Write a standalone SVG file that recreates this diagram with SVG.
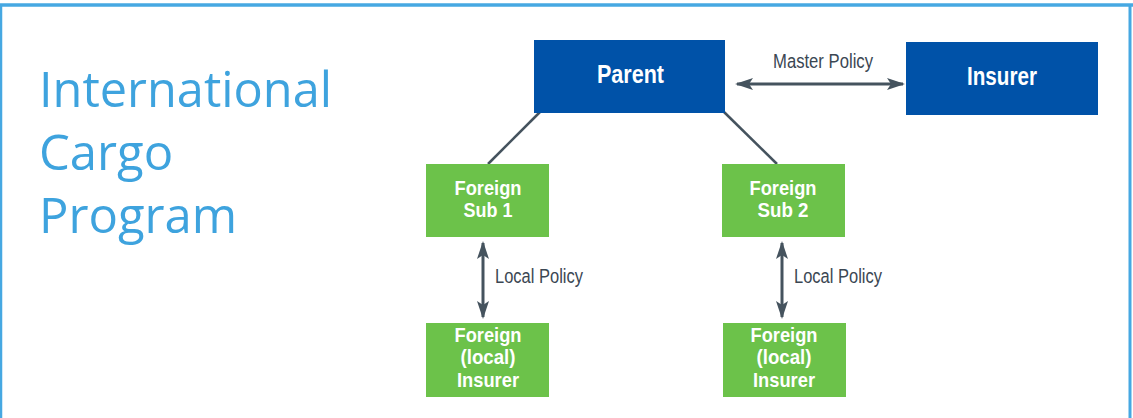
<svg xmlns="http://www.w3.org/2000/svg" width="1133" height="418" viewBox="0 0 1133 418">
<style>
.title{font-family:"Open Sans","Noto Sans",sans-serif;font-size:49px;fill:#3ea3de}
.blue{fill:#0052a8}
.green{fill:#6cc24a}
.lbl{font-family:"Liberation Sans Narrow","Liberation Sans",Arial,sans-serif;font-weight:bold;fill:#ffffff;text-anchor:middle}
.conn{stroke:#45535e;stroke-width:2.5;fill:none}
.arr{stroke:#45535e;stroke-width:3;fill:none}
.pol{font-family:"Liberation Sans Narrow","Liberation Sans",Arial,sans-serif;font-size:20px;fill:#3b4753}
.frame{stroke:#46a8e2;fill:none}
</style>
<defs>
<marker id="ah" viewBox="0 0 18 12" refX="16" refY="6" markerWidth="18" markerHeight="12" markerUnits="userSpaceOnUse" orient="auto-start-reverse">
<path d="M0,0 L18,6 L0,12 L4,6 z" fill="#45535e"/>
</marker>
</defs>
<rect x="0" y="0" width="1133" height="418" fill="#ffffff"/>
<g id="frame">
<line class="frame" x1="0" y1="5" x2="1133" y2="5" stroke-width="3.5"/>
<line class="frame" x1="1" y1="5" x2="1" y2="418" stroke-width="2.5"/>
<line class="frame" x1="1130" y1="5" x2="1130" y2="418" stroke-width="3"/>
</g>
<g id="title">
<text class="title" x="39" y="107" textLength="293" lengthAdjust="spacingAndGlyphs">International</text>
<text class="title" x="39" y="170">Cargo</text>
<text class="title" x="39" y="233">Program</text>
</g>
<g id="connectors">
<line class="conn" x1="540" y1="112" x2="488" y2="164"/>
<line class="conn" x1="724" y1="112" x2="777" y2="164"/>
<line class="arr" x1="737" y1="84" x2="903" y2="84" marker-start="url(#ah)" marker-end="url(#ah)"/>
<text class="pol" x="773" y="68" textLength="100" lengthAdjust="spacingAndGlyphs">Master Policy</text>
<line class="arr" x1="483" y1="243" x2="483" y2="317" marker-start="url(#ah)" marker-end="url(#ah)"/>
<text class="pol" x="495" y="283" textLength="88" lengthAdjust="spacingAndGlyphs">Local Policy</text>
<line class="arr" x1="782" y1="243" x2="782" y2="317" marker-start="url(#ah)" marker-end="url(#ah)"/>
<text class="pol" x="794" y="283" textLength="88" lengthAdjust="spacingAndGlyphs">Local Policy</text>
</g>
<g id="parent">
<rect class="blue" x="534" y="40" width="191" height="73"/>
<text class="lbl" x="630.5" y="83" font-size="25" textLength="67" lengthAdjust="spacingAndGlyphs">Parent</text>
</g>
<g id="insurer">
<rect class="blue" x="906" y="42" width="192" height="73"/>
<text class="lbl" x="1002" y="85" font-size="25" textLength="70" lengthAdjust="spacingAndGlyphs">Insurer</text>
</g>
<g id="sub1">
<rect class="green" x="426" y="164" width="123" height="73"/>
<text class="lbl" x="488" y="195" font-size="21" textLength="67" lengthAdjust="spacingAndGlyphs">Foreign</text>
<text class="lbl" x="488" y="217" font-size="21" textLength="49" lengthAdjust="spacingAndGlyphs">Sub 1</text>
</g>
<g id="sub2">
<rect class="green" x="722" y="164" width="123" height="73"/>
<text class="lbl" x="783" y="195" font-size="21" textLength="67" lengthAdjust="spacingAndGlyphs">Foreign</text>
<text class="lbl" x="783" y="217" font-size="21" textLength="51" lengthAdjust="spacingAndGlyphs">Sub 2</text>
</g>
<g id="local1">
<rect class="green" x="426" y="323" width="123" height="74"/>
<text class="lbl" x="488" y="342" font-size="21" textLength="67" lengthAdjust="spacingAndGlyphs">Foreign</text>
<text class="lbl" x="488" y="364" font-size="21" textLength="55" lengthAdjust="spacingAndGlyphs">(local)</text>
<text class="lbl" x="488" y="387" font-size="21" textLength="62" lengthAdjust="spacingAndGlyphs">Insurer</text>
</g>
<g id="local2">
<rect class="green" x="723" y="323" width="123" height="74"/>
<text class="lbl" x="784" y="342" font-size="21" textLength="67" lengthAdjust="spacingAndGlyphs">Foreign</text>
<text class="lbl" x="784" y="364" font-size="21" textLength="55" lengthAdjust="spacingAndGlyphs">(local)</text>
<text class="lbl" x="784" y="387" font-size="21" textLength="62" lengthAdjust="spacingAndGlyphs">Insurer</text>
</g>
</svg>
